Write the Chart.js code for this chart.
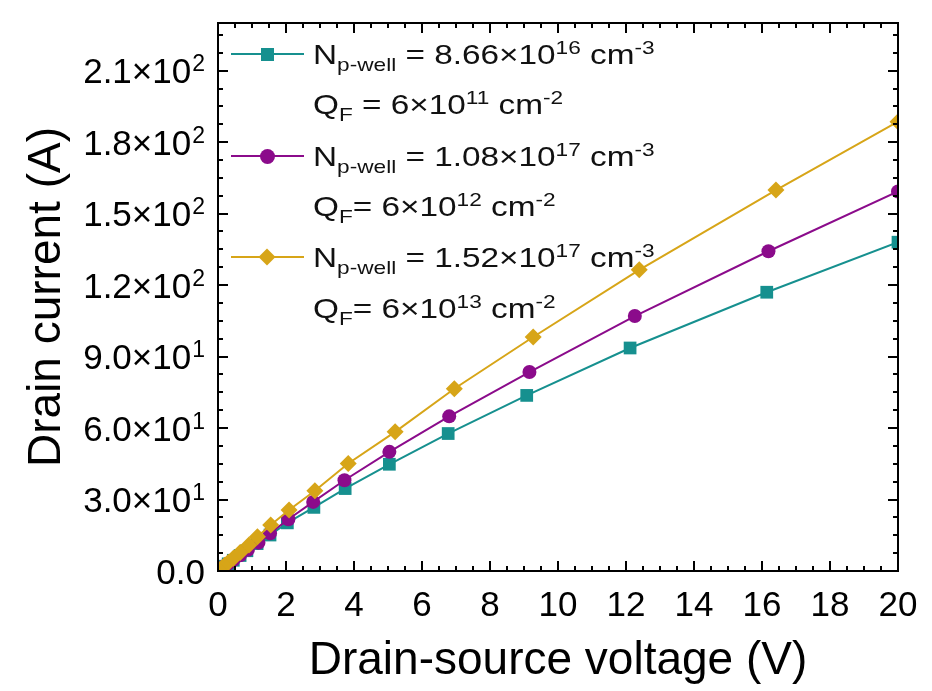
<!DOCTYPE html>
<html>
<head>
<meta charset="utf-8">
<script src="https://cdn.jsdelivr.net/npm/chart.js@4.4.1/dist/chart.umd.min.js"></script>
<style>
  body { margin: 0; background: #fff; }
  #wrap { position: relative; width: 932px; height: 691px; }
  #legend { position: absolute; left: 0; top: 0; font-family: "Liberation Sans", Arial, sans-serif; color: #111; }
  .row { position: absolute; left: 313px; font-size: 28px; line-height: 32px; white-space: nowrap;
         transform: scaleX(1.19); transform-origin: 0 0; }
  .row sub, .row sup { position: relative; vertical-align: baseline; font-size: 0.68em; }
  .row sub { top: 0.35em; }
  .row sup { top: -0.55em; }
  .lline { position: absolute; left: 231px; width: 73px; height: 2px; }
  .mk { position: absolute; }
</style>
</head>
<body>
<div id="wrap">
  <canvas id="chart" width="932" height="691"></canvas>
  <div id="legend"></div>
</div>
<script>
/*****************************************
 * 1. DATA
 *****************************************/
const seriesLabels = ['Np-well = 8.66e16, QF = 6e11', 'Np-well = 1.08e17, QF = 6e12', 'Np-well = 1.52e17, QF = 6e13'];

// teal squares
const tealV = [0.1, 0.2, 0.3, 0.45, 0.65, 0.85, 1.15, 1.53, 2.04, 2.82, 3.74, 5.04, 6.77, 9.08, 12.12, 16.14, 20];
const tealI = [1.0, 2.0, 3.0, 4.5, 6.5, 8.5, 11.5, 15.1, 20.2, 26.7, 34.6, 44.8, 57.7, 73.7, 93.6, 117.0, 138.0];

// purple circles
const purpleV = [0.1, 0.2, 0.3, 0.45, 0.65, 0.88, 1.19, 1.53, 2.07, 2.80, 3.72, 5.04, 6.80, 9.16, 12.26, 16.19, 20];
const purpleI = [1.05, 2.1, 3.1, 4.6, 6.6, 8.9, 11.9, 15.8, 21.7, 29.0, 38.1, 50.0, 64.9, 83.5, 107.0, 134.2, 159.3];

// gold diamonds
const goldV = [0.1, 0.2, 0.3, 0.45, 0.65, 0.91, 1.16, 1.55, 2.09, 2.85, 3.83, 5.21, 6.95, 9.27, 12.39, 16.41, 20];
const goldI = [1.2, 2.4, 3.6, 5.4, 7.8, 10.9, 14.4, 19.3, 25.6, 33.7, 45.1, 58.4, 76.5, 98.2, 126.4, 159.9, 188.6];

// tick labels
const xTicks = [0, 2, 4, 6, 8, 10, 12, 14, 16, 18, 20];
const yTicks = [0, 30, 60, 90, 120, 150, 180, 210];

const TEAL = '#16908f';
const PURPLE = '#8b0b8b';
const GOLD = '#d7a518';
const FONT = '"Liberation Sans", Arial, sans-serif';

const toXY = (vs, is) => vs.map((v, i) => ({ x: v, y: is[i] }));

// y tick label split in mantissa / exponent, e.g. ['1.2×10', '2']
function sciParts(v) {
    if (v === 0) return ['0.0', ''];
    const e = Math.floor(Math.log10(v));
    const m = (v / Math.pow(10, e)).toFixed(1);
    return [m + '\u00D710', String(e)];
}

/*****************************************
 * 2. FRAME, INWARD TICKS, Y LABELS
 *****************************************/
const frameTicks = {
    id: 'frameTicks',
    afterDraw(chart) {
        const { ctx, chartArea: a, scales: { x, y } } = chart;
        ctx.save();
        ctx.strokeStyle = '#000';
        ctx.lineWidth = 2;
        ctx.beginPath();
        // x: minor every 0.5, major every 2
        for (let k = 0; k <= 40; k++) {
            const px = Math.round(x.getPixelForValue(k * 0.5));
            const len = k % 4 === 0 ? 10 : 5;
            ctx.moveTo(px, a.bottom); ctx.lineTo(px, a.bottom - len);
            ctx.moveTo(px, a.top); ctx.lineTo(px, a.top + len);
        }
        // y: minor every 7.5, major every 30
        for (let k = 0; k * 7.5 <= y.max; k++) {
            const py = Math.round(y.getPixelForValue(k * 7.5));
            const len = k % 4 === 0 ? 10 : 5;
            ctx.moveTo(a.left, py); ctx.lineTo(a.left + len, py);
            ctx.moveTo(a.right, py); ctx.lineTo(a.right - len, py);
        }
        ctx.stroke();
        ctx.strokeRect(a.left, a.top, a.right - a.left, a.bottom - a.top);

        // y tick labels with a real superscript
        ctx.fillStyle = '#000';
        ctx.textBaseline = 'alphabetic';
        ctx.textAlign = 'right';
        y.ticks.forEach(t => {
            const py = y.getPixelForValue(t.value);
            const [mant, exp] = sciParts(t.value);
            const xr = a.left - 13;
            const base = py + 12.5;
            let xm = xr;
            if (exp) {
                ctx.font = '23px ' + FONT;
                ctx.fillText(exp, xr, base - 12);
                xm = xr - ctx.measureText(exp).width - 1;
            }
            ctx.font = '35px ' + FONT;
            ctx.fillText(mant, xm, base);
        });
        ctx.restore();
    }
};

/*****************************************
 * 3. CHART
 *****************************************/
const mkSet = (label, data, color, style, r, order) => ({
    label, data, order,
    borderColor: color,
    backgroundColor: color,
    pointStyle: style,
    pointRadius: r,
    pointBorderWidth: 0,
    borderWidth: 2,
    tension: 0
});

const chart = new Chart(document.getElementById('chart'), {
    type: 'line',
    data: {
        datasets: [
            mkSet(seriesLabels[0], toXY(tealV, tealI), TEAL, 'rect', 9, 2),
            mkSet(seriesLabels[1], toXY(purpleV, purpleI), PURPLE, 'circle', 7, 1),
            mkSet(seriesLabels[2], toXY(goldV, goldI), GOLD, 'rectRot', 8.5, 0)
        ]
    },
    options: {
        responsive: false,
        animation: false,
        layout: { padding: { left: 10, right: 34, top: 23, bottom: 0 } },
        plugins: { legend: { display: false }, tooltip: { enabled: false } },
        scales: {
            x: {
                type: 'linear',
                min: 0, max: 20,
                afterBuildTicks: s => { s.ticks = xTicks.map(v => ({ value: v })); },
                afterFit: s => { s.height = 691 - 571; },
                grid: { display: false, drawTicks: false },
                border: { display: false },
                ticks: { color: '#000', padding: 14, maxRotation: 0, font: { family: FONT, size: 35 } },
                title: { display: true, text: 'Drain-source voltage (V)', color: '#000',
                         font: { family: FONT, size: 46 }, padding: { top: 0, bottom: 2 } }
            },
            y: {
                type: 'linear',
                min: 0, max: 230,
                afterBuildTicks: s => { s.ticks = yTicks.map(v => ({ value: v })); },
                afterFit: s => { s.width = 218 - 10; },
                grid: { display: false, drawTicks: false },
                border: { display: false },
                ticks: { display: false },
                title: { display: true, text: 'Drain current (A)', color: '#000',
                         font: { family: FONT, size: 46 }, padding: { top: 10, bottom: 0 } }
            }
        }
    },
    plugins: [frameTicks]
});

/*****************************************
 * 4. LEGEND (HTML, for sub/superscripts)
 *****************************************/
const legendRows = [
    { html: 'N<sub>p-well</sub> = 8.66×10<sup>16</sup> cm<sup>-3</sup>', base: 65, color: TEAL, mk: 'square' },
    { html: 'Q<sub>F</sub> = 6×10<sup>11</sup> cm<sup>-2</sup>', base: 115 },
    { html: 'N<sub>p-well</sub> = 1.08×10<sup>17</sup> cm<sup>-3</sup>', base: 167, color: PURPLE, mk: 'circle' },
    { html: 'Q<sub>F</sub>= 6×10<sup>12</sup> cm<sup>-2</sup>', base: 217 },
    { html: 'N<sub>p-well</sub> = 1.52×10<sup>17</sup> cm<sup>-3</sup>', base: 268, color: GOLD, mk: 'diamond' },
    { html: 'Q<sub>F</sub>= 6×10<sup>13</sup> cm<sup>-2</sup>', base: 319 }
];

const legendEl = document.getElementById('legend');
legendRows.forEach(r => {
    const row = document.createElement('div');
    row.className = 'row';
    row.style.top = (r.base - 26) + 'px';
    row.innerHTML = r.html;
    legendEl.appendChild(row);
    if (!r.color) return;
    const cy = r.base - 11;
    const line = document.createElement('div');
    line.className = 'lline';
    line.style.top = (cy - 1) + 'px';
    line.style.background = r.color;
    legendEl.appendChild(line);
    const m = document.createElement('div');
    m.className = 'mk';
    m.style.background = r.color;
    if (r.mk === 'square') {
        Object.assign(m.style, { width: '13px', height: '13px', left: '261px', top: (cy - 6.5) + 'px' });
    } else if (r.mk === 'circle') {
        Object.assign(m.style, { width: '15px', height: '15px', left: '260px', top: (cy - 7.5) + 'px', borderRadius: '50%' });
    } else {
        Object.assign(m.style, { width: '12px', height: '12px', left: '261px', top: (cy - 6) + 'px', transform: 'rotate(45deg)' });
    }
    legendEl.appendChild(m);
});
</script>
</body>
</html>
